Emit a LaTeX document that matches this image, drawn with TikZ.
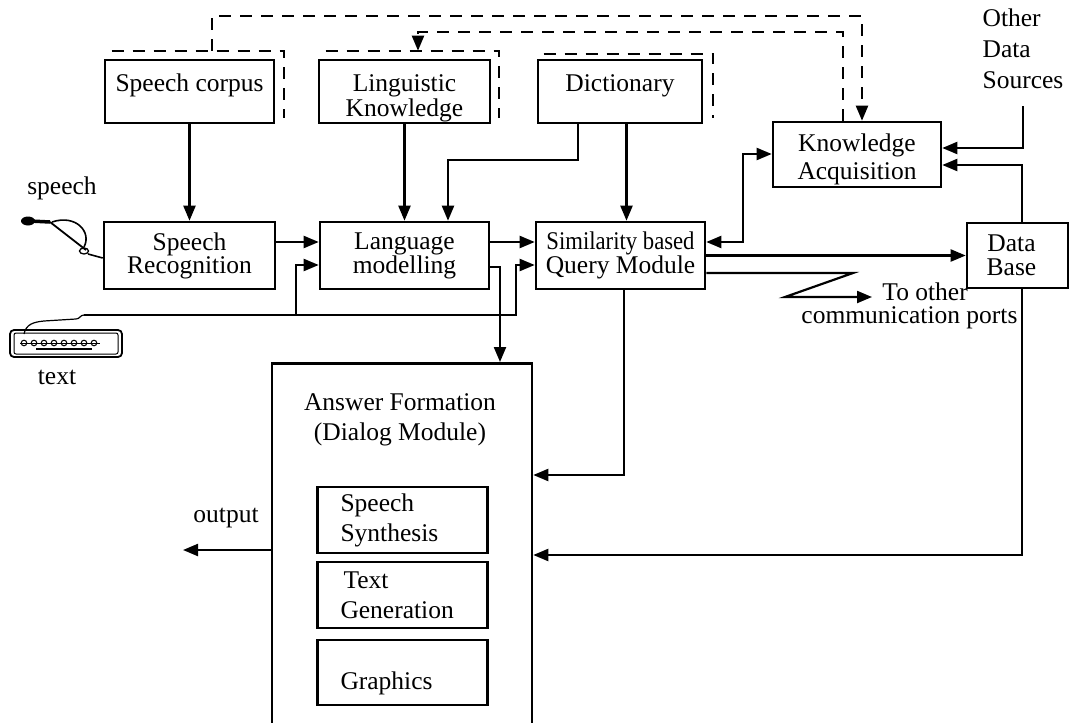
\documentclass[tikz,border=0pt]{standalone}
\usepackage{fontspec}
\setmainfont{Liberation Serif}
\usetikzlibrary{arrows.meta}
\begin{document}
\begin{tikzpicture}[x=1pt,y=-1pt,line width=2.2pt,
  every node/.style={font=\fontsize{25.5}{24}\selectfont},
  box/.style={draw,line width=2.6pt,inner sep=0pt,align=center},
  subbox/.style={box,minimum width=170pt,minimum height=66pt,text width=124pt,align=left,inner xsep=23pt,font=\fontsize{25.5}{30}\selectfont},
  arr/.style={-{Triangle[length=15pt,width=12pt]}},
  darr/.style={{Triangle[length=15pt,width=12pt]}-{Triangle[length=15pt,width=12pt]}},
  dsh/.style={dash pattern=on 12pt off 9pt}]
\clip (0,0) rectangle (1069,723);
\fill[white] (0,0) rectangle (1069,723);
% top row
\node[box,minimum width=169pt,minimum height=63pt,text height=17pt,text depth=17pt] (sc) at (189.5,91.5) {Speech corpus};
\node[box,minimum width=171pt,minimum height=63pt,text height=54pt,text depth=5pt,font=\fontsize{25.5}{25}\selectfont] (lk) at (404.5,91.5) {Linguistic\\Knowledge};
\node[box,minimum width=164pt,minimum height=63pt,text height=17pt,text depth=17pt] (dc) at (620,91.5) {Dictionary};
\node[box,minimum width=168pt,minimum height=65pt,text height=54pt,text depth=5pt,font=\fontsize{25.5}{28}\selectfont] (ka) at (857,154.5) {Knowledge\\Acquisition};
\node[align=left,font=\fontsize{25.5}{31}\selectfont] (ods) at (1023,49) {Other\\Data\\Sources};
% middle row
\node[box,minimum width=171pt,minimum height=67pt,font=\fontsize{25.5}{23}\selectfont] (sr) at (189.5,255.5) {Speech\\Recognition};
\node[box,minimum width=169pt,minimum height=67pt,font=\fontsize{25.5}{23}\selectfont] (lm) at (404.5,255.5) {Language\\modelling};
\node[box,minimum width=169pt,minimum height=67pt,font=\fontsize{25.5}{23}\selectfont] (sim) at (620.5,255.5) {\scalebox{0.89}[1]{Similarity based}\\Query Module};
\node[box,minimum width=101pt,minimum height=65pt,font=\fontsize{25.5}{24}\selectfont] (db) at (1017.5,255.5) {\hspace*{-12pt}Data\\\hspace*{-12pt}Base};
% answer block
\node[box,minimum width=260pt,minimum height=398pt,anchor=north] (af) at (402,362) {};
\node[align=center,font=\fontsize{25.5}{30}\selectfont] (aft) at (400,420) {Answer Formation\\(Dialog Module)};
\node[subbox] (ss) at (402.5,520) {Speech\\Synthesis};
\node[subbox] (tg) at (402.5,595) {\hspace*{3pt}Text\\Generation};
\node[subbox,minimum height=65pt,text height=38pt,text depth=5pt] (gr) at (402.5,672.5) {Graphics};
% labels
\node (spl) at (62,188) {speech};
\node (txl) at (57,377) {text};
\node (outl) at (226,518) {output};
\node[align=left,anchor=west,font=\fontsize{25.5}{23.5}\selectfont] (tot) at (797,306) {\hspace*{81pt}To other\\communication ports};
% coordinates
\coordinate (dj) at (578,160);
\coordinate (ctr) at (862,16);
\coordinate (cil) at (418,32);
\coordinate (kb) at (84,315);
\coordinate (j1) at (296,315);
\coordinate (j2) at (516,315);
\coordinate (kl) at (743,154);
\coordinate (z1) at (853,273);
\coordinate (z2) at (785,297);
\coordinate (z3) at (872,297);
\coordinate (outp) at (183,550);
\coordinate (mice) at (88,254);
% dashed shadows and feedback lines
\draw[dsh] ([xshift=8pt,yshift=8pt]sc.north west) -| ([xshift=9pt,yshift=6pt]sc.south east);
\draw[dsh] ([xshift=8pt,yshift=8pt]lk.north west) -| ([xshift=8pt,yshift=6pt]lk.south east);
\draw[dsh] ([xshift=7pt,yshift=5pt]dc.north west) -| ([xshift=10pt,yshift=6pt]dc.south east);
\draw[dsh,arr] ([xshift=22.5pt,yshift=8pt]sc.north) |- (ctr) -- ([xshift=5pt]ka.north);
\draw[dsh,arr] ([xshift=-14pt]ka.north) |- (cil) -- ([xshift=13.5pt,yshift=8pt]lk.north);
% connectors
\draw[arr] (sc) -- (sr);
\draw[arr] (lk) -- (lm);
\draw[arr] (dc.south -| dj) -- (dj) -| ([xshift=43.5pt]lm.north);
\draw[arr] ([xshift=6.5pt]dc.south) -- ([xshift=6pt]sim.north);
\draw[arr] ([yshift=13.5pt]sr.east) -- ([yshift=13.5pt]lm.west);
\draw[arr] ([yshift=13.5pt]lm.east) -- ([yshift=13.5pt]sim.west);
\draw[arr] ([yshift=-11.5pt]lm.east) -| ([xshift=98pt]af.north);
\draw[arr] (kb) -- (j2) |- ([yshift=-9.5pt]sim.west);
\draw[arr] (j1) |- ([yshift=-9.5pt]lm.west);
\draw[darr] ([yshift=13.5pt]sim.east) -| (kl) -- (kl -| ka.west);
\draw[arr] (sim.east) -- (db.west);
\draw[arr] ([yshift=-17.5pt]sim.east) -- (z1) -- (z2) -- (z3);
\draw[arr] ([xshift=3.5pt]sim.south) |- ([yshift=-113pt]af.north east);
\draw[arr] ([xshift=4.5pt]db.south) |- ([yshift=-193pt]af.north east);
\draw[arr] ([xshift=4.5pt]db.north) |- ([yshift=-10.5pt]ka.east);
\draw[arr] ([yshift=-13pt]ods.south) |- ([yshift=6.5pt]ka.east);
\draw[arr] ([yshift=-188pt]af.north west) -- (outp);
% microphone
\fill (28,221) ellipse (7pt and 4.5pt);
\draw[line width=3.5pt] (30,221) -- (50,222);
\draw[line width=1.8pt] (50,222) -- (86,250);
\draw[line width=1.6pt] (52,222) .. controls (76,214) and (92,232) .. (84,247);
\draw[line width=1.3pt] (84,251) ellipse (4.5pt and 3pt);
\draw[line width=1.6pt] (mice) -- ([yshift=-2.5pt]sr.west);
% keyboard
\draw[line width=1.8pt,rounded corners=4pt] (10,330) rectangle (122,357);
\draw[line width=1pt,rounded corners=2pt] (14,333) rectangle (118,354);
\foreach \i in {0,...,7} {\draw[line width=1pt] (24+\i*10,343) circle (2.8pt);}
\draw[line width=1pt] (20,343) -- (100,343);
\draw[line width=1.2pt] (36,349) -- (92,349);
\draw[line width=1.2pt] (24,334) .. controls (26,324) and (34,322) .. (44,321) -- (76,319) .. controls (80,319) and (80,315) .. (kb);
\end{tikzpicture}
\end{document}
